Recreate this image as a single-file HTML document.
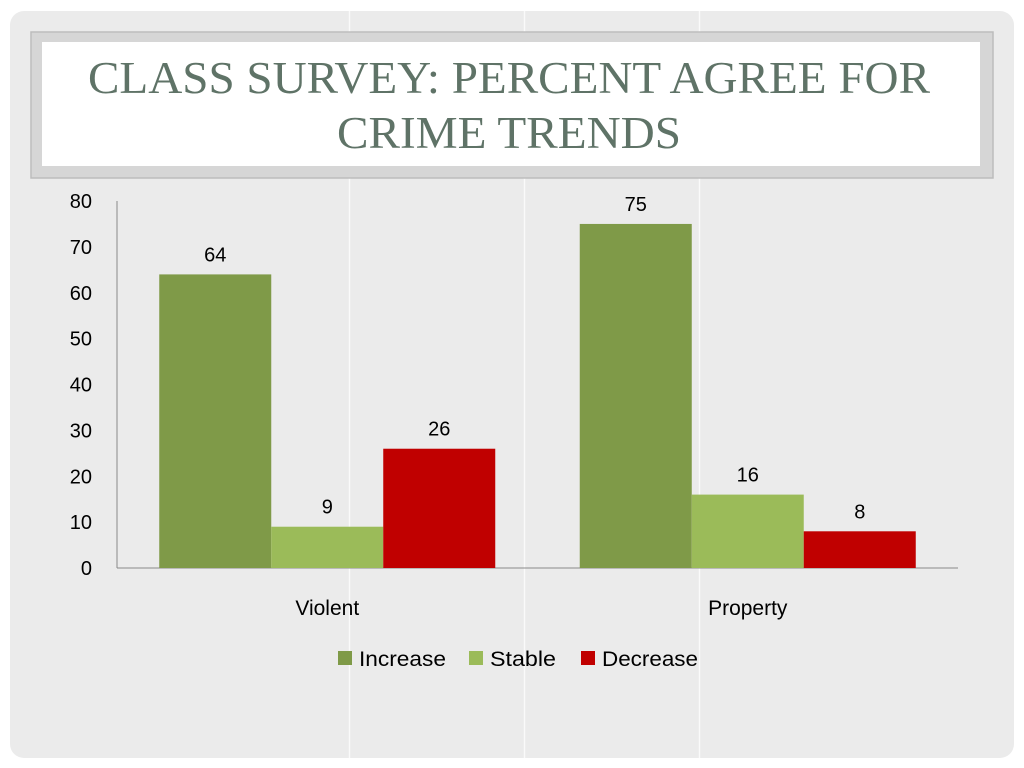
<!DOCTYPE html>
<html><head><meta charset="utf-8"><style>
html,body{margin:0;padding:0;background:#fff;}
svg{display:block;font-family:"Liberation Sans",sans-serif;}
</style></head><body>
<svg width="1024" height="768" viewBox="0 0 1024 768">
<rect x="10" y="11" width="1004" height="747" rx="14" fill="#ebebeb"/>
<line x1="349.5" y1="11" x2="349.5" y2="758" stroke="#fafafa" stroke-width="1.5"/>
<line x1="524.5" y1="11" x2="524.5" y2="758" stroke="#fafafa" stroke-width="1.5"/>
<line x1="699.5" y1="11" x2="699.5" y2="758" stroke="#fafafa" stroke-width="1.5"/>
<rect x="31" y="32" width="962" height="146" fill="#d6d6d6" stroke="#bdbdbd" stroke-width="1.5"/>
<rect x="42" y="42" width="938" height="124" fill="#fff"/>
<text x="509" y="93" text-anchor="middle" font-family="Liberation Serif,serif" font-size="45" fill="#5f7367" textLength="842" lengthAdjust="spacingAndGlyphs">CLASS SURVEY: PERCENT AGREE FOR</text>
<text x="509" y="148" text-anchor="middle" font-family="Liberation Serif,serif" font-size="45" fill="#5f7367" textLength="344" lengthAdjust="spacingAndGlyphs">CRIME TRENDS</text>
<g id="chart"></g>
</svg>
<script>
const categories = ["Violent", "Property"];
const seriesNames = ["Increase", "Stable", "Decrease"];
const increaseValues = [64, 75];
const stableValues = [9, 16];
const decreaseValues = [26, 8];
const yTicks = [0, 10, 20, 30, 40, 50, 60, 70, 80];
const colors = ["#7f9a48", "#9bbb59", "#c00000"];
const NS = "http://www.w3.org/2000/svg";
const g = document.getElementById("chart");
const X0 = 117, X1 = 958, Y0 = 568, Y1 = 201, YMAX = 80;
const y = v => Y0 - (v / YMAX) * (Y0 - Y1);
const catW = (X1 - X0) / categories.length;
const barW = 112;
const catX = i => X0 + catW * i + (catW - barW * 3) / 2;
function mk(tag, attrs, text) {
  const e = document.createElementNS(NS, tag);
  for (const k in attrs) e.setAttribute(k, attrs[k]);
  if (text !== undefined) e.textContent = text;
  g.appendChild(e);
  return e;
}
let e;
e = mk("line", {x1: X0, y1: Y1, x2: X0, y2: Y0, stroke: "#888", "stroke-width": 1});


e = mk("line", {x1: X0, y1: Y0, x2: X1, y2: Y0, stroke: "#888", "stroke-width": 1});


yTicks.forEach(t => {
  const el = mk("text", {x: 92, y: y(t) + 7, "text-anchor": "end", "font-size": 20, fill: "#000"}, String(t));
  
  
});
const series = [increaseValues, stableValues, decreaseValues];
categories.forEach((c, i) => {
  series.forEach((vals, s) => {
    const bx = catX(i) + s * barW;
    const b = mk("rect", {x: bx, y: y(vals[i]), width: barW, height: Y0 - y(vals[i]), fill: colors[s]});
    
    
    const l = mk("text", {x: bx + barW / 2, y: y(vals[i]) - 13, "text-anchor": "middle", "font-size": 20, fill: "#000"}, String(vals[i]));
    
    
  });
  const cl = mk("text", {x: X0 + catW * (i + 0.5), y: 615, "text-anchor": "middle", "font-size": 21, fill: "#000"}, c);
  
  
});
const legX = [338, 469, 581];
const legW = [87, 66, 96];
seriesNames.forEach((n, s) => {
  const r = mk("rect", {x: legX[s], y: 651, width: 14, height: 14, fill: colors[s]});
  
  
  const t = mk("text", {x: legX[s] + 21, y: 666, "font-size": 21, fill: "#000", textLength: legW[s], lengthAdjust: "spacingAndGlyphs"}, n);
  
  
});
</script>
</body></html>
